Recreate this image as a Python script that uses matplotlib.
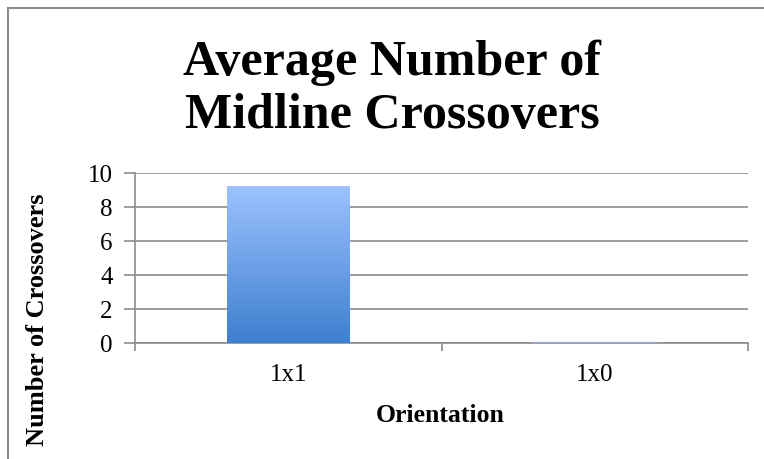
import matplotlib
matplotlib.use("Agg")
import matplotlib.pyplot as plt
import numpy as np
from matplotlib.patches import Rectangle
from matplotlib.colors import LinearSegmentedColormap

categories = ["1x1", "1x0"]
values = [9.25, 0.05]
yticks = [0, 2, 4, 6, 8, 10]

plt.rcParams['font.family'] = ['Liberation Serif', 'DejaVu Serif']

W, H = 764, 459
fig = plt.figure(figsize=(W/100, H/100), dpi=100)

# outer frame
fig.patches.append(Rectangle((8/W, -0.1), 1.2, (H-8)/H + 0.1, transform=fig.transFigure,
                             fill=False, edgecolor='#8c8c8c', linewidth=1.5))

ax = fig.add_axes([135/W, (H-343)/H, 613/W, 170/H])
ax.set_xlim(0, 2)
ax.set_ylim(0, 10)

cmap = LinearSegmentedColormap.from_list('g', ['#3f7fcf', '#9cc3ff'])
grad = np.linspace(0, 1, 256).reshape(-1, 1)
bw = 0.4
for i, v in enumerate(values):
    x0 = i + 0.5 - bw/2
    bars = ax.bar(i + 0.5, v, width=bw, color='none', edgecolor='none', zorder=3)
    im = ax.imshow(grad, extent=[x0, x0 + bw, 0, v], origin='lower', cmap=cmap,
                   aspect='auto', zorder=3)
    im.set_clip_path(bars[0])
    if v < 0.5:
        ax.bar(i + 0.5, v, width=bw, color='#8fb3ea', edgecolor='#8fb3ea', linewidth=1, zorder=3)
ax.set_xlim(0, 2)
ax.set_ylim(0, 10)

ax.set_yticks(yticks)
ax.set_yticklabels([str(t) for t in yticks], fontsize=18)
ax.yaxis.grid(True, color='#8c8c8c', linewidth=1.2)
ax.set_axisbelow(True)
ax.set_xticks([0, 1, 2], minor=False)
ax.set_xticklabels([])
ax.set_xticks([0.5, 1.5], minor=True)
ax.set_xticklabels(categories, minor=True, fontsize=18)
ax.tick_params(axis='x', which='minor', length=0, pad=15)
ax.tick_params(axis='x', which='major', length=6, width=1.2, color='#8c8c8c')
ax.tick_params(axis='y', length=8, width=1.2, color='#8c8c8c', pad=8, direction='out')
for s in ['top', 'right']:
    ax.spines[s].set_visible(False)
for s in ['left', 'bottom']:
    ax.spines[s].set_color('#8c8c8c')
    ax.spines[s].set_linewidth(1.2)

fig.text(440/W, (H-415)/H, "Orientation", ha='center', va='center', fontsize=18.5, fontweight='bold')
fig.text(38/W, (H-320)/H, "Number of Crossovers", ha='center', va='center', rotation=90,
         fontsize=19, fontweight='bold')
fig.text(392/W, (H-75)/H, "Average Number of", ha='center', va='baseline',
         fontsize=36, fontweight='bold')
fig.text(392/W, (H-128)/H, "Midline Crossovers", ha='center', va='baseline',
         fontsize=36, fontweight='bold')

fig.savefig("out.png", dpi=100)
